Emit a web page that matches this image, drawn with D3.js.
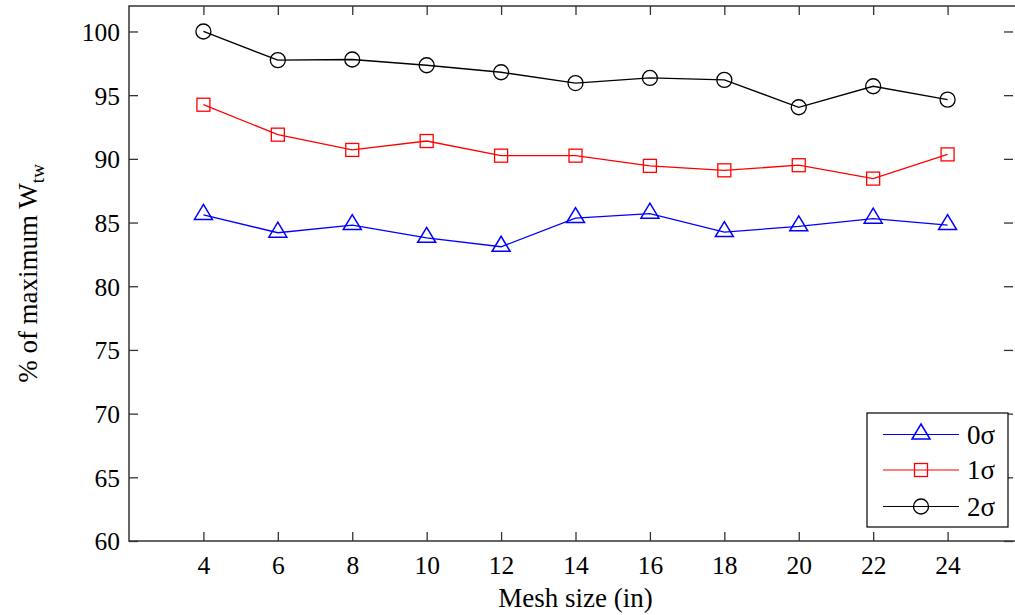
<!DOCTYPE html>
<html>
<head>
<meta charset="utf-8">
<script src="https://cdn.jsdelivr.net/npm/d3@7"></script>
<style>
  html, body { margin: 0; padding: 0; background: #fff; }
  svg { display: block; }
  text { font-family: "Liberation Serif", "Times New Roman", serif; fill: #000; }
</style>
</head>
<body>
<svg id="chart" width="1015" height="615"></svg>
<script>
// Mesh sizes (in)
const meshSizes = [4, 6, 8, 10, 12, 14, 16, 18, 20, 22, 24];
// % of maximum W_tw for each sigma level
const sigma0 = [85.6, 84.2, 84.8, 83.8, 83.1, 85.35, 85.7, 84.25, 84.7, 85.3, 84.8];
const sigma1 = [94.25, 91.9, 90.7, 91.4, 90.25, 90.25, 89.45, 89.1, 89.5, 88.45, 90.35];
const sigma2 = [100.0, 97.75, 97.8, 97.35, 96.8, 95.95, 96.35, 96.2, 94.05, 95.7, 94.65];
const yTicks = [60, 65, 70, 75, 80, 85, 90, 95, 100];
const xTicks = [4, 6, 8, 10, 12, 14, 16, 18, 20, 22, 24];

const series = [
  { name: "0σ", values: sigma0, color: "#0000ff", marker: "triangle" },
  { name: "1σ", values: sigma1, color: "#ff0000", marker: "square" },
  { name: "2σ", values: sigma2, color: "#000000", marker: "circle" }
];

const svg = d3.select("#chart");
const plotL = 129, plotT = 6, plotB = 541, plotR = 1022;

const x = d3.scaleLinear().domain([2, 26]).range([plotL, plotR]);
const y = d3.scaleLinear().domain([60, 102]).range([plotB, plotT]);

const axisColor = "#333";
const tickLen = 9;
const tickFont = "25.5px";
const labelFont = "27px";

// Plot frame
svg.append("rect")
  .attr("x", plotL).attr("y", plotT)
  .attr("width", plotR - plotL).attr("height", plotB - plotT)
  .attr("fill", "none").attr("stroke", axisColor).attr("stroke-width", 1.5);

// Axes with inward ticks
const xAxis = svg.append("g").attr("transform", `translate(0,${plotB})`)
  .call(d3.axisBottom(x).tickValues(xTicks).tickSize(-tickLen).tickPadding(15));
const xTop = svg.append("g").attr("transform", `translate(0,${plotT})`)
  .call(d3.axisTop(x).tickValues(xTicks).tickSize(-tickLen).tickFormat(""));
const yAxis = svg.append("g").attr("transform", `translate(${plotL},0)`)
  .call(d3.axisLeft(y).tickValues(yTicks).tickSize(-tickLen).tickPadding(9));
const yRight = svg.append("g").attr("transform", `translate(${1013},0)`)
  .call(d3.axisRight(y).tickValues(yTicks).tickSize(-tickLen).tickFormat(""));

[xAxis, xTop, yAxis, yRight].forEach(g => {
  g.attr("font-family", null).attr("font-size", null);
  g.select(".domain").remove();
  g.selectAll(".tick line").attr("stroke", axisColor).attr("stroke-width", 1.3);
  g.selectAll(".tick text")
    .style("font-family", '"Liberation Serif", serif')
    .style("font-size", tickFont).attr("fill", "#000");
});
yAxis.selectAll(".tick text").attr("dy", "0.35em");

// Axis labels
svg.append("text")
  .attr("x", x(14)).attr("y", 607)
  .attr("text-anchor", "middle")
  .style("font-size", labelFont)
  .text("Mesh size (in)");

const yl = svg.append("text")
  .attr("transform", `translate(37,${(plotT + plotB) / 2}) rotate(-90)`)
  .attr("text-anchor", "middle")
  .style("font-size", labelFont);
yl.append("tspan").text("% of maximum W");
yl.append("tspan").attr("dy", 7).style("font-size", "19px").text("tw");

// Marker drawing
function drawMarker(g, type, color) {
  if (type === "triangle") {
    g.append("path").attr("d", "M0,-10.5 L9,4.5 L-9,4.5 Z")
      .attr("fill", "none").attr("stroke", color).attr("stroke-width", 1.5);
  } else if (type === "square") {
    g.append("rect").attr("x", -6.5).attr("y", -6.5).attr("width", 13).attr("height", 13)
      .attr("fill", "none").attr("stroke", color).attr("stroke-width", 1.3);
  } else {
    g.append("circle").attr("r", 7.5)
      .attr("fill", "none").attr("stroke", color).attr("stroke-width", 1.3);
  }
}

const line = d3.line().x((d, i) => x(meshSizes[i])).y(d => y(d));

series.forEach(s => {
  svg.append("path").datum(s.values)
    .attr("d", line)
    .attr("fill", "none").attr("stroke", s.color).attr("stroke-width", 1.3);
  s.values.forEach((v, i) => {
    const g = svg.append("g").attr("transform", `translate(${x(meshSizes[i])},${y(v)})`);
    drawMarker(g, s.marker, s.color);
  });
});

// Legend
const lg = svg.append("g");
lg.append("rect")
  .attr("x", 867).attr("y", 413).attr("width", 141).attr("height", 114)
  .attr("fill", "#fff").attr("stroke", "#000").attr("stroke-width", 1.2);
const rowY = [434.5, 470, 506.5];
series.forEach((s, i) => {
  lg.append("line")
    .attr("x1", 883).attr("x2", 959).attr("y1", rowY[i]).attr("y2", rowY[i])
    .attr("stroke", s.color).attr("stroke-width", 1.2);
  const g = lg.append("g").attr("transform", `translate(921,${rowY[i]})`);
  drawMarker(g, s.marker, s.color);
  lg.append("text")
    .attr("x", 967).attr("y", rowY[i]).attr("dy", "0.35em")
    .style("font-size", labelFont)
    .text(s.name);
});
</script>
</body>
</html>
